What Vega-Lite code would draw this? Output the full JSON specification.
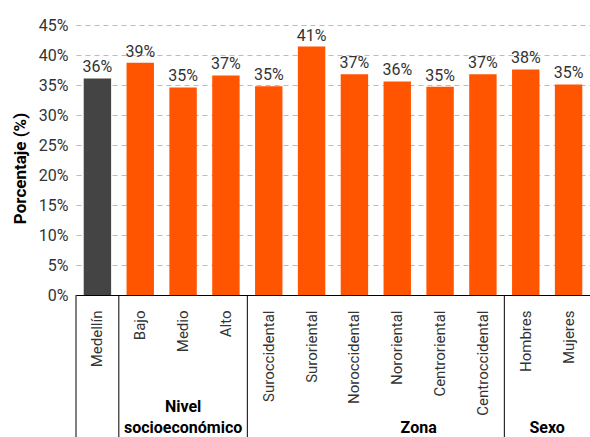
{
  "$schema": "https://vega.github.io/schema/vega-lite/v6.json",
  "width": 514,
  "height": 270,
  "autosize": {"type": "none"},
  "padding": {"left": 76, "top": 25, "right": 0, "bottom": 142},
  "config": {
    "view": {"stroke": null},
    "font": "Roboto, sans-serif"
  },
  "datasets": {
    "bars": [
      {"cat": "Medellín", "type": "total", "value": 0.361},
      {"cat": "Bajo", "type": "grupo", "value": 0.387},
      {"cat": "Medio", "type": "grupo", "value": 0.346},
      {"cat": "Alto", "type": "grupo", "value": 0.366},
      {"cat": "Suroccidental", "type": "grupo", "value": 0.348},
      {"cat": "Suroriental", "type": "grupo", "value": 0.414},
      {"cat": "Noroccidental", "type": "grupo", "value": 0.368},
      {"cat": "Nororiental", "type": "grupo", "value": 0.356},
      {"cat": "Centroriental", "type": "grupo", "value": 0.347},
      {"cat": "Centroccidental", "type": "grupo", "value": 0.368},
      {"cat": "Hombres", "type": "grupo", "value": 0.376},
      {"cat": "Mujeres", "type": "grupo", "value": 0.351}
    ],
    "separators": [
      {"cat": "Medellín"},
      {"cat": "Bajo"},
      {"cat": "Suroccidental"},
      {"cat": "Hombres"}
    ],
    "groupsMid": [
      {"cat": "Medio", "group": "Nivel\nsocioeconómico"}
    ],
    "groupsEdge": [
      {"cat": "Centroriental", "group": "Zona"},
      {"cat": "Mujeres", "group": "Sexo"}
    ]
  },
  "layer": [
    {
      "data": {"name": "bars"},
      "mark": {"type": "bar", "width": {"band": 0.64}},
      "encoding": {
        "x": {
          "field": "cat", "type": "nominal",
          "scale": {
            "domain": ["Medellín", "Bajo", "Medio", "Alto", "Suroccidental", "Suroriental", "Noroccidental", "Nororiental", "Centroriental", "Centroccidental", "Hombres", "Mujeres"],
            "paddingInner": 0, "paddingOuter": 0
          },
          "axis": {
            "title": null,
            "labelAngle": -90,
            "labelAlign": "right",
            "labelBaseline": "middle",
            "labelPadding": 15,
            "labelFontSize": 15,
            "labelColor": "#333333",
            "labelOverlap": false,
            "ticks": false,
            "domainColor": "#000000",
            "domainWidth": 1,
            "grid": false
          }
        },
        "y": {
          "field": "value", "type": "quantitative",
          "scale": {"domain": [0, 0.45], "nice": false},
          "axis": {
            "title": "Porcentaje (%)",
            "titleFontSize": 17,
            "titleFontWeight": "bold",
            "titleColor": "#000000",
            "titlePadding": 9,
            "titleY": 143,
            "values": [0, 0.05, 0.1, 0.15, 0.2, 0.25, 0.3, 0.35, 0.4, 0.45],
            "tickCount": 12,
            "format": ".0%",
            "labelFontSize": 16,
            "labelColor": "#333333",
            "labelPadding": 8,
            "labelOverlap": false,
            "labelBound": false,
            "ticks": false,
            "domain": false,
            "grid": true,
            "gridColor": "#bbbbbb",
            "gridDash": [5, 4],
            "gridWidth": 1
          }
        },
        "color": {
          "field": "type", "type": "nominal",
          "scale": {"domain": ["total", "grupo"], "range": ["#444444", "#ff5500"]},
          "legend": null
        }
      }
    },
    {
      "data": {"name": "bars"},
      "mark": {"type": "text", "baseline": "bottom", "dy": -3, "fontSize": 16, "color": "#333333"},
      "encoding": {
        "x": {"field": "cat", "type": "nominal"},
        "y": {"field": "value", "type": "quantitative"},
        "text": {"field": "value", "type": "quantitative", "format": ".0%"}
      }
    },
    {
      "data": {"name": "separators"},
      "mark": {"type": "rule", "color": "#000000", "strokeWidth": 1},
      "encoding": {
        "x": {"field": "cat", "type": "nominal", "bandPosition": 0},
        "y": {"datum": 0},
        "y2": {"datum": -0.25}
      }
    },
    {
      "data": {"name": "groupsMid"},
      "mark": {"type": "text", "baseline": "alphabetic", "fontSize": 16, "fontWeight": "bold", "color": "#000000", "lineBreak": "\n", "lineHeight": 21},
      "encoding": {
        "x": {"field": "cat", "type": "nominal", "bandPosition": 0.5},
        "y": {"datum": -0.195},
        "text": {"field": "group", "type": "nominal"}
      }
    },
    {
      "data": {"name": "groupsEdge"},
      "mark": {"type": "text", "baseline": "alphabetic", "fontSize": 16, "fontWeight": "bold", "color": "#000000"},
      "encoding": {
        "x": {"field": "cat", "type": "nominal", "bandPosition": 0},
        "y": {"datum": -0.23},
        "text": {"field": "group", "type": "nominal"}
      }
    }
  ]
}
